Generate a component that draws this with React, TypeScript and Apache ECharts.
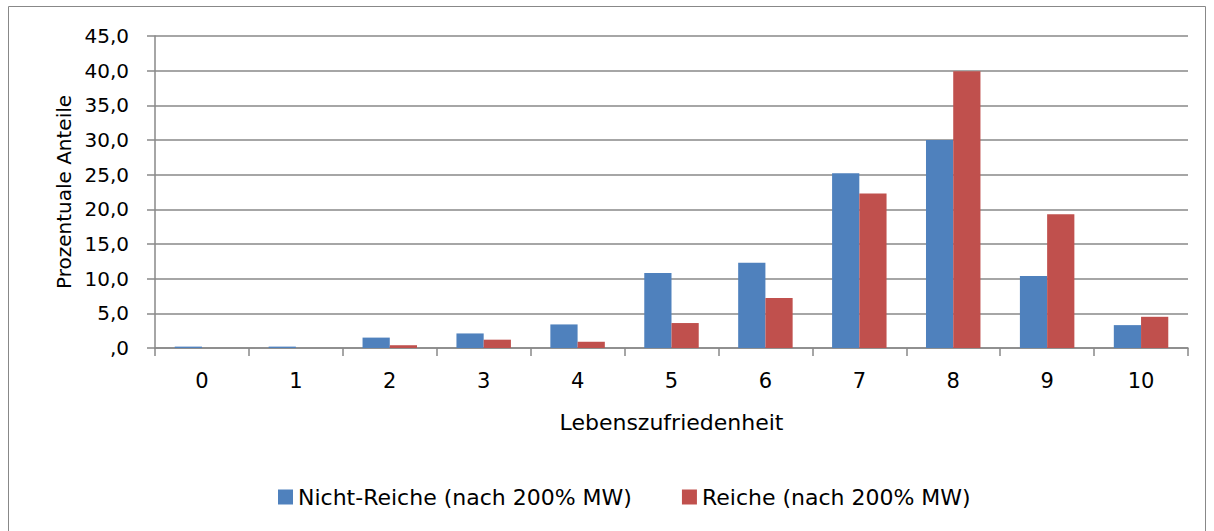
import React, { useEffect, useRef } from "react";
import * as echarts from "echarts";

const categories = ["0", "1", "2", "3", "4", "5", "6", "7", "8", "9", "10"];
const nichtReiche = [0.2, 0.2, 1.5, 2.1, 3.4, 10.8, 12.3, 25.2, 30.0, 10.4, 3.3];
const reiche = [0.0, 0.0, 0.4, 1.2, 0.9, 3.6, 7.2, 22.3, 39.9, 19.3, 4.5];
const seriesNames = ["Nicht-Reiche (nach 200% MW)", "Reiche (nach 200% MW)"];

const FONT = "DejaVu Sans";

export default function App() {
  const ref = useRef<HTMLDivElement>(null);
  useEffect(() => {
    if (!ref.current) return;
    const chart = echarts.init(ref.current, null, { renderer: "svg" });
    chart.setOption({
      animation: false,
      textStyle: { fontFamily: FONT, color: "#000" },
      graphic: [
        {
          type: "rect",
          shape: { x: 8.5, y: 6.5, width: 1197, height: 530 },
          style: { fill: "none", stroke: "#888", lineWidth: 1 },
          silent: true,
        },
      ],
      grid: { left: 155, right: 26, top: 36, bottom: 183, containLabel: false },
      legend: {
        top: 481,
        left: 273,
        itemWidth: 15,
        itemHeight: 15,
        itemGap: 50,
        icon: "rect",
        textStyle: { fontFamily: FONT, fontSize: 22, color: "#000" },
        data: seriesNames,
      },
      xAxis: {
        type: "category",
        data: categories,
        name: "Lebenszufriedenheit",
        nameLocation: "middle",
        nameGap: 63,
        nameTextStyle: { fontFamily: FONT, fontSize: 22, color: "#000" },
        axisLine: { lineStyle: { color: "#888", width: 1.5 } },
        axisTick: { show: true, length: 8, lineStyle: { color: "#888", width: 1.5 }, alignWithLabel: false },
        axisLabel: { fontFamily: FONT, fontSize: 21, color: "#000", margin: 22 },
      },
      yAxis: {
        type: "value",
        min: 0,
        max: 45,
        interval: 5,
        name: "Prozentuale Anteile",
        nameLocation: "middle",
        nameGap: 81,
        nameRotate: 90,
        nameTextStyle: { fontFamily: FONT, fontSize: 20, color: "#000" },
        axisLine: { show: true, lineStyle: { color: "#888", width: 1.5 } },
        axisTick: { show: true, length: 8, lineStyle: { color: "#888", width: 1.5 } },
        splitLine: { show: true, lineStyle: { color: "#888", width: 1.5 } },
        axisLabel: {
          fontFamily: FONT,
          fontSize: 20,
          color: "#000",
          margin: 26,
          formatter: (v: number) => (v === 0 ? ",0" : v.toFixed(1).replace(".", ",")),
        },
      },
      series: [
        {
          name: seriesNames[0],
          type: "bar",
          data: nichtReiche,
          barGap: "0%",
          barCategoryGap: "42%",
          itemStyle: { color: "#4F81BD" },
        },
        {
          name: seriesNames[1],
          type: "bar",
          data: reiche,
          itemStyle: { color: "#C0504D" },
        },
      ],
    });
    return () => chart.dispose();
  }, []);
  return <div ref={ref} style={{ width: 1214, height: 531, position: "absolute", left: 0, top: 0 }} />;
}
